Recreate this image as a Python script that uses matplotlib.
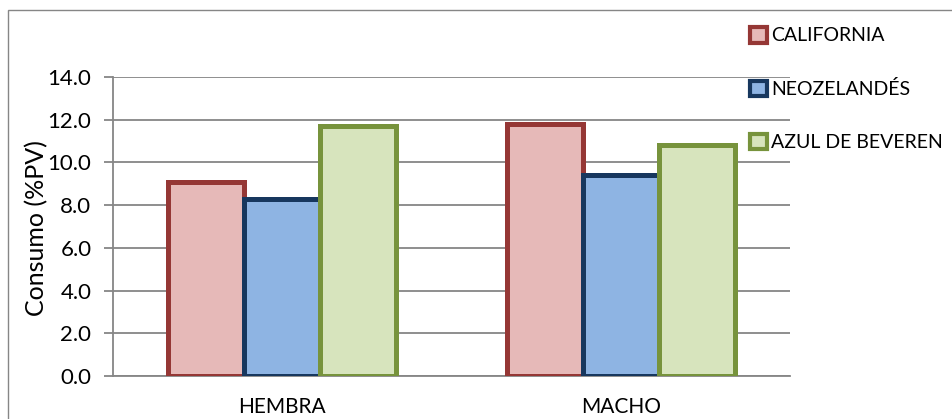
import matplotlib.pyplot as plt
import numpy as np
from matplotlib.patches import Patch, Rectangle

categories = ["HEMBRA", "MACHO"]
series = ["CALIFORNIA", "NEOZELANDÉS", "AZUL DE BEVEREN"]
california = [9.1, 11.8]
neozelandes = [8.3, 9.4]
azul = [11.7, 10.8]
yticks = [0.0, 2.0, 4.0, 6.0, 8.0, 10.0, 12.0, 14.0]

fills = ["#E6B9B8", "#8EB4E3", "#D7E4BD"]
edges = ["#953735", "#17375E", "#77933C"]

plt.rcParams["font.family"] = ["Lato", "DejaVu Sans"]

fig = plt.figure(figsize=(9.52, 4.19), dpi=100)
ax = fig.add_axes([113 / 952, 1 - 376 / 419, 677 / 952, 299 / 419])

x = np.arange(len(categories))
width = 0.225
values = [california, neozelandes, azul]
for i, vals in enumerate(values):
    ax.bar(x + (i - 1) * width, vals, width, color=fills[i], edgecolor=edges[i],
           linewidth=3.6, zorder=3, label=series[i])

ax.set_xlim(-0.5, 1.5)
ax.set_ylim(0, 14)
ax.set_yticks(yticks)
ax.set_yticklabels(["%.1f" % v for v in yticks], fontsize=16)
ax.set_xticks(x)
ax.set_xticklabels(categories, fontsize=15)
ax.tick_params(axis="x", length=0, pad=15)
ax.tick_params(axis="y", length=6.5, width=1.3, color="#868686", pad=9)
ax.yaxis.grid(True, color="#868686", linewidth=1.3, zorder=0)
for s in ["top", "right"]:
    ax.spines[s].set_visible(False)
for s in ["left", "bottom"]:
    ax.spines[s].set_color("#868686")
    ax.spines[s].set_linewidth(1.3)
ax.set_ylabel("Consumo (%PV)", fontsize=18)
ax.yaxis.set_label_coords(-0.096, 0.495)

handles = [Patch(facecolor=fills[i], edgecolor=edges[i], linewidth=3.0) for i in range(3)]
fig.legend(handles, series, loc="upper left", bbox_to_anchor=(750 / 952, 1 - 27 / 419),
           frameon=False, fontsize=14, handlelength=0.85, handleheight=0.85,
           handletextpad=0.25, labelspacing=1.83, borderaxespad=0, borderpad=0)

fig.add_artist(Rectangle((8 / 952, -0.1), 1.2, 1 - 10 / 419 + 0.1, transform=fig.transFigure,
                         fill=False, edgecolor="#868686", linewidth=1.0))

fig.savefig("out.png", dpi=100)
